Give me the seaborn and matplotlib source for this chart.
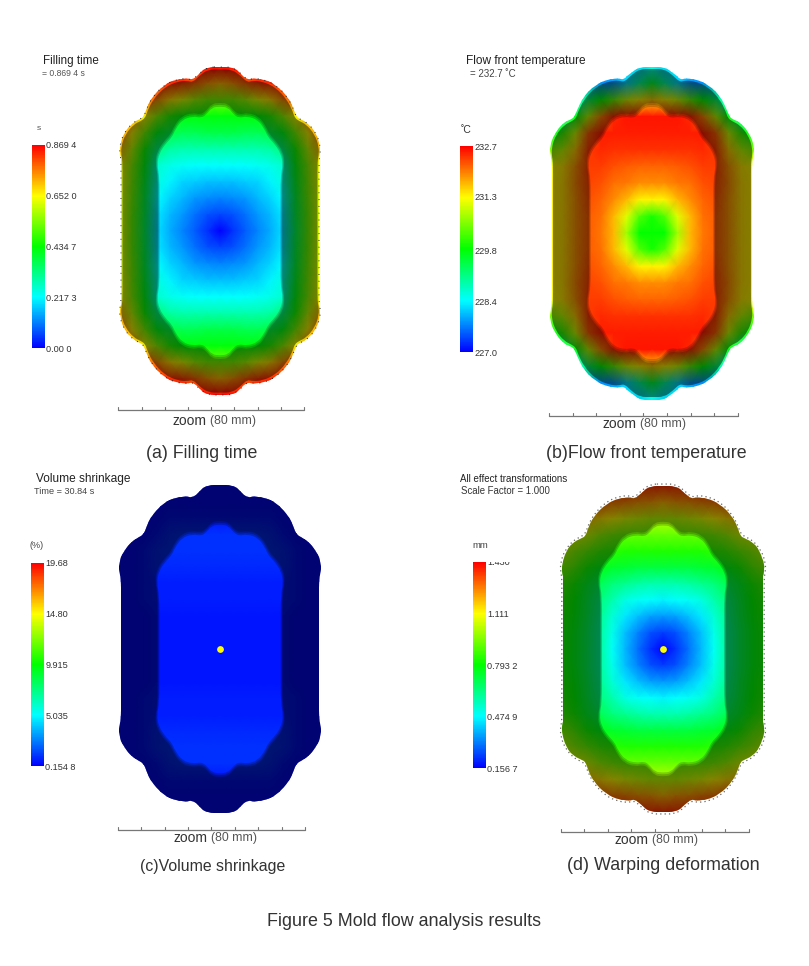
import numpy as np
import pandas as pd
import matplotlib
matplotlib.use("Agg")
import matplotlib.pyplot as plt
from matplotlib.colors import LinearSegmentedColormap
from matplotlib.path import Path
from matplotlib.patches import PathPatch
from matplotlib.transforms import Bbox, TransformedBbox
import seaborn as sns

# ---------- data ----------
u_nodes = [0, .125, .25, .375, .5, .625, .75, .875, 1]
v_nodes = [0, .1, .2, .3, .4, .5, .6, .7, .8, .9, 1]

# Quarter fields, percent of each legend's range (row: v_nodes, col: u_nodes)
filling_pct = [
    [0, 5, 9, 13, 17, 22, 42, 60, 74],
    [7, 8, 11, 15, 18, 23, 43, 60, 74],
    [13, 14, 15, 18, 21, 25, 44, 61, 74],
    [19, 19, 20, 21, 24, 28, 46, 62, 75],
    [25, 25, 25, 26, 27, 30, 48, 63, 76],
    [33, 33, 33, 33, 34, 38, 52, 68, 82],
    [43, 43, 42, 42, 43, 48, 62, 76, 88],
    [49, 49, 49, 49, 54, 64, 76, 86, 92],
    [62, 62, 66, 72, 78, 86, 92, 95, 95],
    [82, 85, 90, 94, 96, 98, 98, 98, 98],
    [100, 100, 100, 100, 100, 100, 100, 100, 100],
]
temperature_pct = [
    [50, 50, 66, 82, 88, 91, 85, 78, 76],
    [52, 58, 72, 82, 89, 91, 85, 78, 76],
    [76, 76, 82, 86, 90, 92, 85, 78, 76],
    [86, 86, 88, 89, 92, 93, 86, 78, 76],
    [90, 90, 91, 92, 94, 94, 85, 77, 74],
    [95, 95, 95, 95, 96, 94, 80, 68, 62],
    [97, 97, 97, 97, 97, 90, 70, 55, 45],
    [98, 98, 98, 96, 86, 68, 48, 35, 30],
    [80, 76, 70, 60, 50, 40, 25, 20, 20],
    [45, 35, 22, 15, 14, 14, 14, 14, 14],
    [25, 20, 20, 20, 20, 20, 20, 20, 20],
]
shrinkage_pct = [
    [2, 2, 2, 2, 2, 2, 1, 1, 1],
    [2, 2, 2, 2, 2, 2, 1, 1, 1],
    [2, 2, 2, 2, 2, 2, 1, 1, 1],
    [3, 3, 3, 3, 3, 3, 2, 1, 1],
    [3, 3, 3, 3, 3, 3, 2, 1, 1],
    [4, 4, 4, 4, 4, 4, 2, 1, 1],
    [5, 5, 5, 5, 5, 4, 2, 1, 1],
    [5, 5, 5, 5, 4, 2, 1, 1, 1],
    [2, 2, 2, 2, 2, 1, 1, 1, 1],
    [1, 1, 1, 1, 1, 1, 1, 1, 1],
    [1, 1, 1, 1, 1, 1, 1, 1, 1],
]
warping_pct = [
    [0, 5, 11, 18, 26, 35, 42, 48, 52],
    [6, 8, 13, 19, 27, 35, 42, 48, 52],
    [15, 16, 19, 23, 29, 36, 43, 49, 53],
    [24, 25, 26, 28, 33, 38, 44, 50, 54],
    [33, 33, 34, 36, 38, 42, 46, 52, 56],
    [44, 44, 44, 45, 46, 48, 52, 58, 62],
    [53, 53, 53, 53, 54, 56, 60, 64, 68],
    [60, 60, 60, 60, 62, 65, 70, 72, 75],
    [68, 68, 70, 72, 75, 78, 80, 82, 82],
    [82, 84, 85, 87, 88, 90, 90, 90, 90],
    [95, 95, 95, 95, 95, 95, 95, 95, 95],
]

filling_ticks = [0.0, 0.2173, 0.4347, 0.652, 0.8694]
filling_labels = ["0.00 0", "0.217 3", "0.434 7", "0.652 0", "0.869 4"]
temperature_ticks = [227.0, 228.4, 229.8, 231.3, 232.7]
temperature_labels = ["227.0", "228.4", "229.8", "231.3", "232.7"]
shrinkage_ticks = [0.1548, 5.035, 9.915, 14.80, 19.68]
shrinkage_labels = ["0.154 8", "5.035", "9.915", "14.80", "19.68"]
warping_ticks = [0.1567, 0.4749, 0.7932, 1.111, 1.430]
warping_labels = ["0.156 7", "0.474 9", "0.793 2", "1.111", "1.430"]

# Part outline (top-right quarter, spline control points, half-size units)
outer_u = [0, .12, .21, .275, .33, .43, .56, .675, .735, .755, .80, .87, .955, 1.0, .995, .985, .985, .985]
outer_v = [1.0, 1.0, .96, .92, .93, .925, .89, .815, .74, .70, .68, .66, .60, .52, .46, .44, .3, 0]
inner_u = [0, .08, .14, .19, .27, .38, .45, .485, .55, .615, .635, .61, .61, .61]
inner_v = [.77, .765, .72, .70, .71, .69, .63, .58, .54, .48, .41, .33, .15, 0]

# ---------- layout (pixels of the 809x966 figure) ----------
W, H = 809, 966
sns.set_theme(style="white")
plt.rcParams["font.family"] = ["Liberation Sans", "DejaVu Sans"]
fig = plt.figure(figsize=(W / 100, H / 100), dpi=100, facecolor="white")


def rect(x0, y0, x1, y1):
    return [x0 / W, 1 - y1 / H, (x1 - x0) / W, (y1 - y0) / H]


cmap = LinearSegmentedColormap.from_list(
    "moldflow", ["#0000ff", "#00ffff", "#00ff00", "#ffff00", "#ff0000"], N=256
)


def spline_path(us, vs, scale=1.0, reverse=False):
    us, vs = list(us), list(vs)
    right_u = us + us[-2::-1]
    right_v = vs + [-v for v in vs[-2::-1]]
    all_u = right_u + [-a for a in right_u[-2:0:-1]]
    all_v = right_v + right_v[-2:0:-1]
    pts = np.column_stack([all_u, all_v]) * scale
    if reverse:
        pts = pts[::-1]
    n = len(pts)
    mids = (pts + np.roll(pts, -1, axis=0)) / 2
    verts = [mids[-1]]
    codes = [Path.MOVETO]
    for i in range(n):
        verts += [pts[i], mids[i]]
        codes += [Path.CURVE3, Path.CURVE3]
    return np.array(verts), codes


def to_cells(verts, ncols, nrows):
    out = verts.copy()
    out[:, 0] = (verts[:, 0] + 1) * (ncols - 1) / 2
    out[:, 1] = (1 - verts[:, 1]) * (nrows - 1) / 2
    return out


def panel(pct, ticks, labels, centre, half, bar, dim, rim, gate=None, edge=None):
    cx, cy = centre
    hw, hh = half
    ax = fig.add_axes(rect(cx - hw, cy - hh, cx + hw, cy + hh))
    cax = fig.add_axes(rect(*bar))
    lo, hi = ticks[0], ticks[-1]
    q = lo + np.array(pct, float) / 100 * (hi - lo)
    top = np.hstack([q[::-1, :0:-1], q[::-1]])          # v from +1 to 0
    grid = np.vstack([top, top[-2::-1]])
    us = [-a for a in u_nodes[:0:-1]] + list(u_nodes)
    vs = list(v_nodes[::-1]) + [-a for a in v_nodes[1:]]
    frame = pd.DataFrame(grid, index=vs, columns=us)
    sns.heatmap(frame, ax=ax, cbar_ax=cax, cmap=cmap, vmin=lo, vmax=hi,
                shading="gouraud", xticklabels=False, yticklabels=False,
                cbar_kws={"ticks": ticks})
    mesh = ax.collections[0]
    nr, nc = grid.shape
    ax.set_xlim(0, nc - 1)
    ax.set_ylim(nr - 1, 0)
    ax.axis("off")

    v, c = spline_path(outer_u, outer_v)
    shape = PathPatch(Path(to_cells(v, nc, nr), c), transform=ax.transData)
    mesh.set_clip_path(shape)

    # thinner-wall band: darkened ring between outer edge and inner cavity
    layers = [0.985, 1.0, 1.015]
    a = 1 - (1 - dim) ** (1 / len(layers))
    for s in layers:
        v1, c1 = spline_path(outer_u, outer_v, scale=rim)
        v2, c2 = spline_path(inner_u, inner_v, scale=s, reverse=True)
        ring = Path(to_cells(np.vstack([v1, v2]), nc, nr), c1 + c2)
        p = PathPatch(ring, fc="black", ec="none", alpha=a, zorder=3)
        ax.add_patch(p)
        p.set_clip_path(shape)

    if edge:
        ve = v * edge[3]
        ax.add_patch(PathPatch(Path(to_cells(ve, nc, nr), c), fc="none",
                               ec=edge[0], lw=edge[1], ls=(0, edge[2]),
                               clip_on=False, zorder=4))
    if gate is not None:
        ax.scatter([(nc - 1) / 2], [(nr - 1) / 2], c=[gate], cmap=cmap,
                   vmin=lo, vmax=hi, s=24, linewidths=0, zorder=5)

    cb = mesh.colorbar
    cb.set_ticks(ticks, labels=labels)
    cb.outline.set_linewidth(0)
    cax.tick_params(length=0, pad=1, labelsize=6.6, labelcolor="#333333",
                    right=True, labelright=True)
    return cax


panel(filling_pct, filling_ticks, filling_labels, (220, 231), (100.5, 164),
      (32, 145, 44.5, 348), 0.47, 0.985, edge=("#222222", 0.7, (1, 6), 1.0))
panel(temperature_pct, temperature_ticks, temperature_labels, (652, 233), (102, 166.5),
      (460, 146, 473, 352), 0.47, 0.985)
panel(shrinkage_pct, shrinkage_ticks, shrinkage_labels, (220, 649), (101, 164),
      (31, 563, 44, 766), 0.55, 1.05, gate=14.8)
cax_d = panel(warping_pct, warping_ticks, warping_labels, (663, 649), (101.5, 163),
              (473, 562, 486, 768), 0.47, 1.05, gate=1.111,
              edge=("#666666", 0.9, (1, 2.5), 1.012))
# top legend label of panel (d) is cut off in the reference
top_lbl = cax_d.get_yticklabels()[-1]
top_lbl.set_clip_box(TransformedBbox(Bbox([[0, 0], [1, 1 - 562 / H]]), fig.transFigure))
top_lbl.set_clip_on(True)

# ---------- annotation layer ----------
ov = fig.add_axes([0, 0, 1, 1], facecolor="none", zorder=10)
ov.set_xlim(0, W)
ov.set_ylim(H, 0)
ov.axis("off")


def t(x, y, s, size, color="#222222", ha="left"):
    ov.text(x, y, s, fontsize=size, color=color, ha=ha, va="center")


t(43, 61, "Filling time", 8.4)
t(42, 74, "= 0.869 4 s", 6.2, "#555555")
t(37, 129, "s", 6, "#555555")
t(466, 61, "Flow front temperature", 8.6)
t(470, 74, "= 232.7 ˚C", 7, "#444444")
t(461, 130, "˚C", 7.5, "#333333")
t(36, 479, "Volume shrinkage", 8.6)
t(34, 492, "Time = 30.84 s", 6.6, "#444444")
t(30, 546, "(%)", 6.5, "#444444")
t(460, 479, "All effect transformations", 7)
t(461, 491, "Scale Factor = 1.000", 6.9, "#333333")
t(472, 546, "mm", 6.8, "#444444")

t(202, 454, "(a) Filling time", 12.8, "#333333", "center")
t(646, 453, "(b)Flow front temperature", 12.8, "#333333", "center")
t(212.5, 866, "(c)Volume shrinkage", 11.4, "#333333", "center")
t(663, 865, "(d) Warping deformation", 12.9, "#333333", "center")
t(404.5, 921, "Figure 5 Mold flow analysis results", 12.9, "#333333", "center")

for x0, x1, y, tx, ty in [(118.5, 304, 410, 207, 421), (549, 738, 416, 637, 424),
                          (118, 305, 830, 208, 838), (561, 749, 832, 649, 840)]:
    ov.plot([x0, x1], [y, y], color="#777777", lw=0.9)
    for k in range(9):
        xk = x0 + (x1 - x0) * k / 8
        ov.plot([xk, xk], [y, y - 3], color="#777777", lw=0.8)
    t(tx, ty, "zoom", 10, "#333333", "right")
    t(tx + 3, ty, "(80 mm)", 8.8, "#555555")

fig.savefig("out.png", dpi=100)
